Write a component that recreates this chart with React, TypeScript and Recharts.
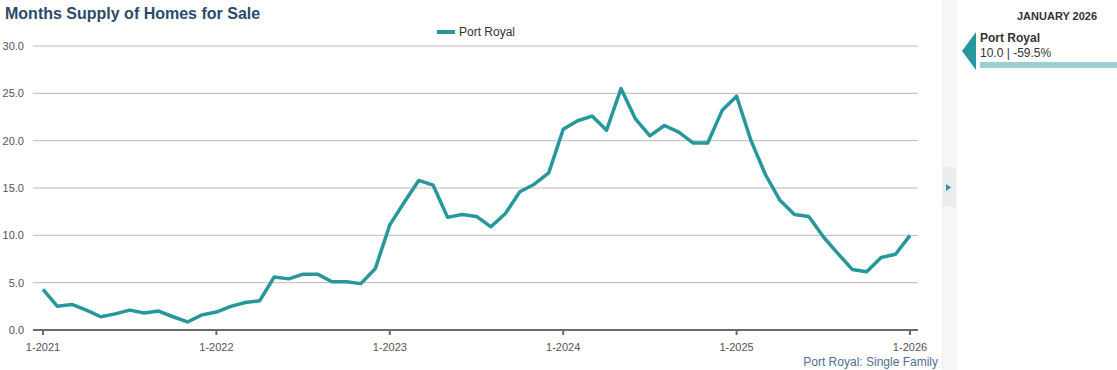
import React from "react";
import { LineChart, Line, XAxis, YAxis, CartesianGrid } from "recharts";

// monthly months-supply readings, Jan 2021 .. Jan 2026
const values2021 = [4.3, 2.5, 2.7, 2.1, 1.4, 1.7, 2.1, 1.8, 2.0, 1.4, 0.85, 1.6];
const values2022 = [1.9, 2.5, 2.9, 3.1, 5.6, 5.4, 5.9, 5.9, 5.1, 5.1, 4.9, 6.5];
const values2023 = [11.1, 13.5, 15.8, 15.3, 11.9, 12.2, 12.0, 10.9, 12.3, 14.6, 15.4, 16.6];
const values2024 = [21.2, 22.1, 22.6, 21.1, 25.5, 22.3, 20.5, 21.6, 20.9, 19.75, 19.75, 23.2];
const values2025 = [24.7, 20.0, 16.4, 13.7, 12.2, 12.0, 9.85, 8.1, 6.4, 6.15, 7.65, 8.0];
const values2026 = [10.0];

const years = [2021, 2022, 2023, 2024, 2025, 2026];
const yTicks = [0, 5, 10, 15, 20, 25, 30];

const seriesName = "Port Royal";
const TEAL = "#26979c";
const FONT = "'Liberation Sans', Arial, Helvetica, sans-serif";

const allValues = [...values2021, ...values2022, ...values2023, ...values2024, ...values2025, ...values2026];
const data = allValues.map((v, i) => ({
  month: `${(i % 12) + 1}-${years[Math.floor(i / 12)]}`,
  value: v,
}));

export default function App() {
  return (
    <div
      style={{
        position: "absolute",
        left: 0,
        top: 0,
        width: 1117,
        height: 370,
        background: "#fff",
        fontFamily: FONT,
        overflow: "hidden",
      }}
    >
      <div style={{ position: "absolute", left: 5, top: 5, fontSize: 16, fontWeight: "bold", color: "#2c4a6b" }}>
        Months Supply of Homes for Sale
      </div>

      {/* legend */}
      <div style={{ position: "absolute", left: 437, top: 25, display: "flex", alignItems: "center", fontSize: 12, color: "#333" }}>
        <span style={{ display: "inline-block", width: 18, height: 4, background: TEAL, marginRight: 4 }} />
        {seriesName}
      </div>

      <div style={{ position: "absolute", left: 0, top: 0 }}>
        <LineChart width={940} height={370} data={data} margin={{ top: 46, right: 22, bottom: 10, left: 0 }}>
          <CartesianGrid vertical={false} stroke="#bbb" strokeWidth={1} />
          <XAxis
            dataKey="month"
            interval={11}
            height={30}
            padding={{ left: 10, right: 8 }}
            axisLine={{ stroke: "#6b6b6b", strokeWidth: 2 }}
            tickLine={{ stroke: "#6b6b6b", strokeWidth: 2 }}
            tickSize={5}
            tickMargin={8}
            tick={{ fontSize: 11, fill: "#555", fontFamily: FONT }}
          />
          <YAxis
            width={33}
            domain={[0, 30]}
            ticks={yTicks}
            axisLine={false}
            tickLine={false}
            tickMargin={3}
            tickFormatter={(v: number) => v.toFixed(1)}
            tick={{ fontSize: 11, fill: "#555", fontFamily: FONT }}
          />
          <Line
            type="linear"
            dataKey="value"
            name={seriesName}
            stroke={TEAL}
            strokeWidth={3.5}
            strokeLinejoin="round"
            dot={false}
            isAnimationActive={false}
          />
        </LineChart>
      </div>

      <div style={{ position: "absolute", right: 179, top: 355, fontSize: 12, color: "#4d6f91" }}>
        Port Royal: Single Family
      </div>

      {/* side panel */}
      <div style={{ position: "absolute", left: 942, top: 0, width: 14, height: 370, background: "#f7f7f7", borderLeft: "1px solid #eee" }} />
      <div style={{ position: "absolute", left: 943, top: 167, width: 13, height: 40, background: "#ececec" }} />
      <svg style={{ position: "absolute", left: 0, top: 0 }} width={1117} height={370}>
        <polygon points="946,184 951,187.5 946,191" fill={TEAL} />
        <polygon points="962,51 976,32 976,70" fill={TEAL} />
      </svg>
      <div style={{ position: "absolute", left: 1017, top: 10, fontSize: 11, fontWeight: "bold", color: "#333" }}>
        JANUARY 2026
      </div>
      <div style={{ position: "absolute", left: 980, top: 31, fontSize: 12, fontWeight: "bold", color: "#333" }}>
        {seriesName}
      </div>
      <div style={{ position: "absolute", left: 980, top: 46, fontSize: 12, color: "#333" }}>
        10.0 | -59.5%
      </div>
      <div style={{ position: "absolute", left: 980, top: 62, width: 137, height: 6, background: "#9dcfd2" }} />
    </div>
  );
}
